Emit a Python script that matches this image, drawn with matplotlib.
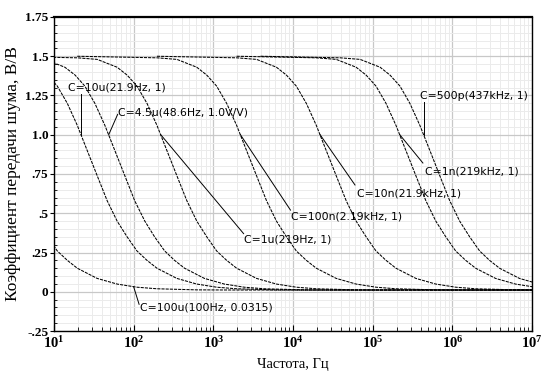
import matplotlib
matplotlib.use('Agg')
import matplotlib.pyplot as plt
from matplotlib.ticker import LogLocator, FixedLocator, NullFormatter, FixedFormatter

plt.rcParams['mathtext.fontset'] = 'custom'
plt.rcParams['mathtext.rm'] = 'Liberation Serif'
plt.rcParams['mathtext.bf'] = 'Liberation Serif:bold'

# noise gain shape (same for every C, shifted in frequency)
gain = [1.50, 1.49, 1.48, 1.43, 1.38, 1.31, 1.20, 1.06, 0.90, 0.74, 0.58, 0.45,
        0.35, 0.26, 0.20, 0.15, 0.085, 0.049, 0.029, 0.019, 0.012, 0.011, 0.011]

# frequency points (Hz) for each capacitor value
f_100u = [0.0196, 0.196, 0.349, 0.62, 0.827, 1.10, 1.47, 1.96, 2.61, 3.48, 4.65, 6.20,
          8.27, 11.0, 14.7, 19.6, 34.8, 62.0, 110, 196, 620, 1960, 1.96e7]
f_10u = [0.196, 1.96, 3.49, 6.20, 8.27, 11.0, 14.7, 19.6, 26.1, 34.8, 46.5, 62.0,
         82.7, 110, 147, 196, 348, 620, 1100, 1960, 6200, 19600, 1.96e8]
f_4u5 = [0.435, 4.35, 7.74, 13.7, 18.4, 24.4, 32.6, 43.5, 58.0, 77.3, 103, 138,
         183, 245, 326, 435, 773, 1375, 2446, 4350, 13755, 43500, 4.35e8]
f_1u = [1.96, 19.6, 34.9, 62.0, 82.7, 110, 147, 196, 261, 348, 465, 620,
        827, 1100, 1470, 1960, 3485, 6200, 11020, 19600, 62000, 196000, 1.96e9]
f_100n = [19.6, 196, 349, 620, 827, 1100, 1470, 1960, 2610, 3480, 4650, 6200,
          8270, 11000, 14700, 19600, 34850, 62000, 110200, 196000, 620000, 1960000, 1.96e10]
f_10n = [196, 1960, 3490, 6200, 8270, 11000, 14700, 19600, 26100, 34800, 46500, 62000,
         82700, 110000, 147000, 196000, 348500, 620000, 1102000, 1960000, 6200000, 19600000, 1.96e11]
f_1n = [1960, 19600, 34900, 62000, 82700, 110000, 147000, 196000, 261000, 348000, 465000, 620000,
        827000, 1100000, 1470000, 1960000, 3485000, 6200000, 11020000, 19600000, 62000000, 196000000, 1.96e12]
f_500p = [3910, 39100, 69600, 124000, 165000, 220000, 293000, 391000, 522000, 695000, 927000, 1236000,
          1649000, 2199000, 2932000, 3910000, 6952000, 12360000, 21990000, 39100000, 123600000, 391000000, 3.91e12]

curves = [f_100u, f_10u, f_4u5, f_1u, f_100n, f_10n, f_1n, f_500p]

# cursor labels: text, marked point, leader end, text anchor
label_text = ['C=10u(21.9Hz, 1)', 'C=4.5u(48.6Hz, 1.0V/V)', 'C=1u(219Hz, 1)',
              'C=100n(2.19kHz, 1)', 'C=10n(21.9kHz, 1)', 'C=1n(219kHz, 1)',
              'C=500p(437kHz, 1)', 'C=100u(100Hz, 0.0315)']
mark_f = [21.9, 48.6, 219, 2190, 21900, 219000, 437000, 100]
mark_v = [1.0, 1.0, 1.0, 1.0, 1.0, 1.0, 1.0, 0.0315]
lead_f = [21.9, 63, 2400, 9300, 60000, 427000, 437000, 117]
lead_v = [1.26, 1.13, 0.37, 0.52, 0.68, 0.82, 1.21, -0.08]
txt_f = [15.0, 64, 2450, 9500, 63000, 452000, 389000, 121]
txt_v = [1.30, 1.14, 0.335, 0.48, 0.625, 0.765, 1.245, -0.10]

yticks = [-0.25, 0, 0.25, 0.5, 0.75, 1.0, 1.25, 1.5, 1.75]
ytick_labels = ['-.25', '0', '.25', '.5', '.75', '1.0', '1.25', '1.5', '1.75']
xticks = [1e1, 1e2, 1e3, 1e4, 1e5, 1e6, 1e7]
xtick_labels = [r'$\mathbf{10^{%d}}$' % p for p in range(1, 8)]

fig = plt.figure(figsize=(5.47, 3.88), dpi=100)
ax = fig.add_axes([0.0987, 0.1469, 0.8739, 0.8093])

for f in curves:
    ax.plot(f, gain, color='k', lw=0.75, ls=(0, (3, 1)))

for i in range(len(label_text)):
    ax.plot([mark_f[i], lead_f[i]], [mark_v[i], lead_v[i]], color='k', lw=0.7)
    ax.text(txt_f[i], txt_v[i], label_text[i], fontsize=7.8, family='DejaVu Sans',
            ha='left', va='center')

ax.set_xscale('log')
ax.set_xlim(1e1, 1e7)
ax.set_ylim(-0.25, 1.75)

ax.xaxis.set_major_locator(FixedLocator(xticks))
ax.xaxis.set_major_formatter(FixedFormatter(xtick_labels))
ax.xaxis.set_minor_locator(LogLocator(base=10, subs=range(2, 10), numticks=20))
ax.xaxis.set_minor_formatter(NullFormatter())
ax.yaxis.set_major_locator(FixedLocator(yticks))
ax.yaxis.set_major_formatter(FixedFormatter(ytick_labels))
ax.yaxis.set_minor_locator(FixedLocator([-0.25 + 0.05 * k for k in range(41)]))

ax.grid(which='major', color='#c8c8c8', lw=0.9)
ax.grid(which='minor', color='#ebebeb', lw=0.7)
ax.set_axisbelow(True)

ax.tick_params(axis='x', which='major', direction='in', length=4, pad=3, labelsize=10.5)
ax.tick_params(axis='x', which='minor', direction='in', length=3)
ax.tick_params(axis='y', which='major', direction='out', length=3, pad=1, labelsize=9.5)
ax.tick_params(axis='y', which='minor', direction='in', length=2.5)
for lab in ax.get_yticklabels():
    lab.set_family('Liberation Serif')
    lab.set_fontweight('bold')

for s in ax.spines.values():
    s.set_linewidth(1.0)
ax.spines['top'].set_linewidth(1.6)

ax.set_xlabel('Частота, Гц', family='Liberation Serif', fontsize=10.5, labelpad=5)
ax.set_ylabel('Коэффициент передачи шума, В/В', family='Liberation Serif', fontsize=12.5,
              labelpad=3)

fig.savefig('out.png', dpi=100)
